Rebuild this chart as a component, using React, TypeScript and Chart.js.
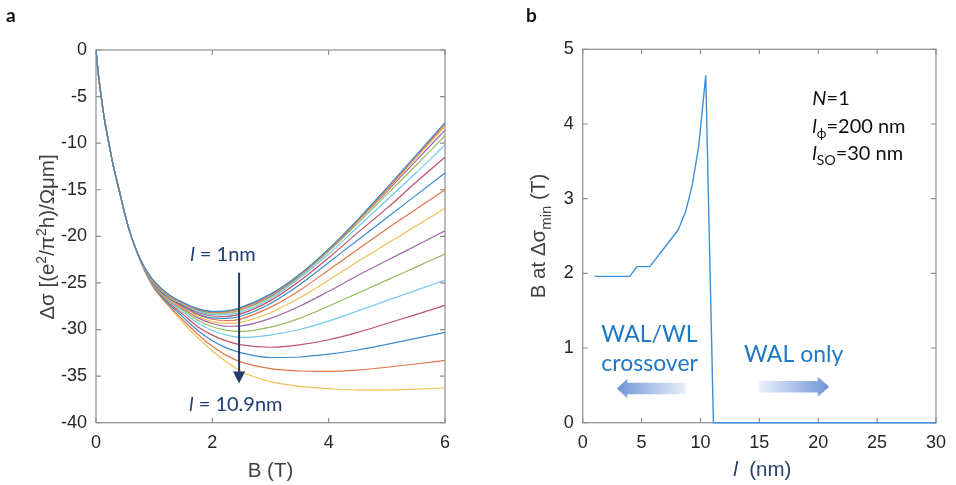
import React, { useEffect, useRef } from "react";
import { Chart, registerables } from "chart.js";

Chart.register(...registerables);

// ---------------- Panel a data: Δσ vs B ----------------
// shared low-field part (all curves coincide)
const fieldStart = [0, 0.02, 0.05, 0.1, 0.15, 0.2, 0.3, 0.4, 0.5, 0.6, 0.7];
const sigmaStart = [0, -1.4, -3.1, -5.5, -7.6, -9.3, -12.5, -15.1, -17.7, -19.9, -21.6];
// field values where the curves separate
const fieldTail = [0.8, 0.9, 1.0, 1.25, 1.5, 1.75, 2.0, 2.25, 2.5, 3.0, 3.5, 4.0, 4.5, 5.0, 5.5, 6.0];

const curve01 = [-22.95, -24.0, -24.8, -26.25, -27.1, -27.75, -28.05, -28.0, -27.6, -26.2, -24.1, -21.35, -18.2, -14.8, -11.3, -7.8];
const curve02 = [-22.95, -24.0, -24.85, -26.3, -27.15, -27.8, -28.1, -28.05, -27.7, -26.25, -24.1, -21.4, -18.3, -14.95, -11.45, -8.0];
const curve03 = [-22.97, -24.05, -24.9, -26.35, -27.2, -27.8, -28.1, -28.1, -27.75, -26.3, -24.15, -21.45, -18.35, -15.05, -11.6, -8.2];
const curve04 = [-22.98, -24.1, -24.95, -26.4, -27.2, -27.85, -28.15, -28.15, -27.8, -26.4, -24.2, -21.5, -18.4, -15.2, -11.9, -8.6];
const curve05 = [-23.0, -24.1, -25.0, -26.45, -27.25, -27.9, -28.25, -28.25, -27.9, -26.5, -24.3, -21.6, -18.6, -15.5, -12.4, -9.2];
const curve06 = [-23.0, -24.15, -25.05, -26.5, -27.3, -28.0, -28.4, -28.4, -28.1, -26.7, -24.5, -21.9, -19.0, -16.1, -13.2, -10.2];
const curve07 = [-23.02, -24.2, -25.1, -26.55, -27.4, -28.15, -28.55, -28.6, -28.3, -26.9, -24.8, -22.3, -19.6, -17.0, -14.2, -11.5];
const curve08 = [-23.03, -24.2, -25.15, -26.6, -27.5, -28.3, -28.75, -28.8, -28.55, -27.2, -25.2, -22.8, -20.4, -18.0, -15.6, -13.2];
const curve09 = [-23.05, -24.25, -25.2, -26.65, -27.6, -28.4, -28.9, -29.05, -28.85, -27.6, -25.8, -23.6, -21.4, -19.2, -17.1, -15.0];
const curve10 = [-23.07, -24.3, -25.25, -26.75, -27.7, -28.6, -29.15, -29.35, -29.2, -28.2, -26.6, -24.7, -22.7, -20.8, -18.9, -17.0];
const curve11 = [-23.08, -24.3, -25.3, -26.8, -27.8, -28.75, -29.35, -29.65, -29.6, -28.8, -27.5, -25.9, -24.2, -22.6, -21.0, -19.4];
const curve12 = [-23.1, -24.35, -25.35, -26.9, -27.95, -29.0, -29.7, -30.1, -30.2, -29.75, -28.8, -27.5, -26.1, -24.7, -23.3, -21.9];
const curve13 = [-23.12, -24.4, -25.4, -27.0, -28.15, -29.3, -30.1, -30.6, -30.85, -30.6, -30.0, -29.1, -28.0, -26.9, -25.8, -24.7];
const curve14 = [-23.13, -24.4, -25.45, -27.1, -28.4, -29.7, -30.6, -31.25, -31.65, -31.9, -31.65, -31.1, -30.3, -29.35, -28.4, -27.4];
const curve15 = [-23.15, -24.45, -25.5, -27.25, -28.7, -30.1, -31.2, -32.0, -32.5, -33.0, -32.95, -32.65, -32.2, -31.6, -30.95, -30.3];
const curve16 = [-23.17, -24.5, -25.55, -27.4, -29.0, -30.5, -31.8, -32.8, -33.5, -34.2, -34.45, -34.5, -34.35, -34.05, -33.7, -33.3];
const curve17 = [-23.2, -24.55, -25.6, -27.5, -29.3, -30.9, -32.3, -33.5, -34.5, -35.6, -36.1, -36.35, -36.5, -36.5, -36.4, -36.25];

const curvesA = [curve01, curve02, curve03, curve04, curve05, curve06, curve07, curve08, curve09,
  curve10, curve11, curve12, curve13, curve14, curve15, curve16, curve17];
const paletteA = ["#3b8ccc", "#e0764a", "#efc056", "#a064ad", "#91bd5c", "#74c9ee", "#c0506a"];

const xTicksA = [0, 2, 4, 6];
const yTicksA = [0, -5, -10, -15, -20, -25, -30, -35, -40];

// ---------------- Panel b data: B at Δσmin vs l ----------------
const lengthNm = [1, 4, 4.6, 5.7, 8.1, 8.75, 9.3, 9.85, 10.45, 11.1, 30];
const bAtMin = [1.96, 1.96, 2.09, 2.09, 2.58, 2.83, 3.18, 3.7, 4.65, 0, 0];
const xTicksB = [0, 5, 10, 15, 20, 25, 30];
const yTicksB = [0, 1, 2, 3, 4, 5];

// ---------------- helpers ----------------
type Seg = { t: string; size?: number; italic?: boolean; bold?: boolean; dy?: number; color?: string; family?: string };

function drawRich(ctx: CanvasRenderingContext2D, segs: Seg[], x: number, y: number, size: number,
  family: string, color: string, align: "left" | "center" = "left", rotate = 0) {
  ctx.save();
  ctx.translate(x, y);
  if (rotate) ctx.rotate(rotate);
  const fontOf = (s: Seg) => `${s.italic ? "italic " : ""}${s.bold ? "bold " : ""}${s.size ?? size}px ${s.family ?? family}`;
  let total = 0;
  const widths = segs.map((s) => { ctx.font = fontOf(s); const w = ctx.measureText(s.t).width; total += w; return w; });
  let cx = align === "center" ? -total / 2 : 0;
  ctx.textAlign = "left";
  ctx.textBaseline = "alphabetic";
  const base = size * 0.36;
  segs.forEach((s, i) => {
    ctx.font = fontOf(s);
    ctx.fillStyle = s.color ?? color;
    ctx.fillText(s.t, cx, base + (s.dy ?? 0));
    cx += widths[i];
  });
  ctx.restore();
}

function gradArrow(ctx: CanvasRenderingContext2D, tailX: number, tipX: number, cy: number,
  headLen: number, headHalf: number, bodyHalf: number, cTail: string, cTip: string) {
  const dir = Math.sign(tipX - tailX);
  const baseX = tipX - dir * headLen;
  const g = ctx.createLinearGradient(tailX, 0, tipX, 0);
  g.addColorStop(0, cTail);
  g.addColorStop(1, cTip);
  ctx.save();
  ctx.fillStyle = g;
  ctx.beginPath();
  ctx.moveTo(tailX, cy - bodyHalf);
  ctx.lineTo(baseX, cy - bodyHalf);
  ctx.lineTo(baseX, cy - headHalf);
  ctx.lineTo(tipX, cy);
  ctx.lineTo(baseX, cy + headHalf);
  ctx.lineTo(baseX, cy + bodyHalf);
  ctx.lineTo(tailX, cy + bodyHalf);
  ctx.closePath();
  ctx.fill();
  ctx.restore();
}

const framePlugin = {
  id: "frame",
  beforeDatasetsDraw(chart: any) {
    const { ctx, chartArea: a, scales } = chart;
    ctx.save();
    ctx.strokeStyle = "#8e8e8e";
    ctx.lineWidth = 1.2;
    ctx.strokeRect(a.left, a.top, a.right - a.left, a.bottom - a.top);
    ctx.beginPath();
    const tl = 5;
    scales.x.ticks.forEach((t: any) => {
      const p = scales.x.getPixelForValue(t.value);
      ctx.moveTo(p, a.bottom); ctx.lineTo(p, a.bottom - tl);
      ctx.moveTo(p, a.top); ctx.lineTo(p, a.top + tl);
    });
    scales.y.ticks.forEach((t: any) => {
      const p = scales.y.getPixelForValue(t.value);
      ctx.moveTo(a.left, p); ctx.lineTo(a.left + tl, p);
      ctx.moveTo(a.right, p); ctx.lineTo(a.right - tl, p);
    });
    ctx.stroke();
    ctx.restore();
  },
};

const TICK_FONT = { family: "'Liberation Sans', Arial, sans-serif", size: 18 };
const LABEL_FAMILY = "'Liberation Sans', Arial, sans-serif";
const NOTE_FAMILY = "Lato, 'Open Sans', sans-serif";
const NAVY = "#1f3b70";
const BLUE_TEXT = "#1f78c6";

function axisScale(min: number, max: number, ticks: number[], fitSize: number, isX: boolean, padding: number) {
  return {
    type: "linear",
    min, max,
    grid: { display: false, drawTicks: false },
    border: { display: false },
    ticks: { font: TICK_FONT, color: "#262626", padding, maxRotation: 0, autoSkip: false },
    afterBuildTicks: (s: any) => { s.ticks = ticks.map((v) => ({ value: v })); },
    afterFit: (s: any) => { if (isX) s.height = fitSize; else s.width = fitSize; },
  };
}

export default function App() {
  const refA = useRef<HTMLCanvasElement>(null);
  const refB = useRef<HTMLCanvasElement>(null);

  useEffect(() => {
    const datasets = curvesA.map((tail, i) => ({
      data: fieldStart.map((b, k) => ({ x: b, y: sigmaStart[k] }))
        .concat(fieldTail.map((b, k) => ({ x: b, y: tail[k] }))),
      borderColor: paletteA[i % paletteA.length],
      borderWidth: 1.2,
      pointRadius: 0,
      cubicInterpolationMode: "monotone",
      fill: false,
    }));

    const notesA = {
      id: "notesA",
      afterDraw(chart: any) {
        const { ctx, scales } = chart;
        const px = (v: number) => scales.x.getPixelForValue(v);
        const py = (v: number) => scales.y.getPixelForValue(v);
        // navy arrow
        const ax = px(2.46), aTop = py(-23.9), aTip = py(-35.8);
        ctx.save();
        ctx.strokeStyle = NAVY; ctx.fillStyle = NAVY; ctx.lineWidth = 2;
        ctx.beginPath(); ctx.moveTo(ax, aTop); ctx.lineTo(ax, aTip - 9); ctx.stroke();
        ctx.beginPath(); ctx.moveTo(ax - 6, aTip - 12); ctx.lineTo(ax + 6, aTip - 12); ctx.lineTo(ax, aTip); ctx.closePath(); ctx.fill();
        ctx.restore();
        drawRich(ctx, [{ t: "l", italic: true }, { t: " = 1nm" }], px(1.62), py(-21.9), 20, NOTE_FAMILY, NAVY);
        drawRich(ctx, [{ t: "l", italic: true }, { t: " = 10.9nm" }], px(1.6), py(-37.95), 20, NOTE_FAMILY, NAVY);
        // axis titles
        drawRich(ctx, [{ t: "B (T)" }], (chart.chartArea.left + chart.chartArea.right) / 2, 470, 20.5, LABEL_FAMILY, "#404040", "center");
        drawRich(ctx, [
          { t: "Δσ [(e" }, { t: "2", size: 14, dy: -8 }, { t: "/π" }, { t: "2", size: 14, dy: -8 }, { t: "h)/Ωμm]" },
        ], 47, 237, 20.5, LABEL_FAMILY, "#404040", "center", -Math.PI / 2);
        // panel letter
        ctx.save();
        ctx.font = `bold 19px ${NOTE_FAMILY}`; ctx.fillStyle = "#111"; ctx.textBaseline = "middle";
        ctx.fillText("a", 6, 16);
        ctx.restore();
      },
    };

    const chartA = new Chart(refA.current!, {
      type: "line",
      data: { datasets: datasets as any },
      options: {
        responsive: false,
        animation: false,
        layout: { padding: { top: 50, right: 25, left: 0, bottom: 0 } },
        plugins: { legend: { display: false }, tooltip: { enabled: false } },
        scales: {
          x: axisScale(0, 6, xTicksA, 62.3, true, 10) as any,
          y: axisScale(-40, 0, yTicksA, 96, false, 9) as any,
        },
      },
      plugins: [framePlugin, notesA],
    });

    const notesB = {
      id: "notesB",
      afterDraw(chart: any) {
        const { ctx, scales } = chart;
        const px = (v: number) => scales.x.getPixelForValue(v);
        const py = (v: number) => scales.y.getPixelForValue(v);
        drawRich(ctx, [{ t: "N", italic: true }, { t: "=1" }], px(19.5), py(4.35), 20, NOTE_FAMILY, "#111");
        drawRich(ctx, [{ t: "l", italic: true }, { t: "ϕ", size: 13, dy: 5 }, { t: "=200 nm" }], px(19.5), py(3.97), 20, NOTE_FAMILY, "#111");
        drawRich(ctx, [{ t: "l", italic: true }, { t: "SO", size: 14, dy: 5 }, { t: "=30 nm" }], px(19.5), py(3.61), 20, NOTE_FAMILY, "#111");
        drawRich(ctx, [{ t: "WAL/WL" }], px(1.58), py(1.19), 23, NOTE_FAMILY, BLUE_TEXT);
        drawRich(ctx, [{ t: "crossover" }], px(1.58), py(0.8), 23, NOTE_FAMILY, BLUE_TEXT);
        drawRich(ctx, [{ t: "WAL only" }], px(13.7), py(0.93), 23, NOTE_FAMILY, BLUE_TEXT);
        gradArrow(ctx, px(8.74), px(2.9), py(0.458), 10.5, 9.7, 5.8, "#eaf0fa", "#6f95d6");
        gradArrow(ctx, px(14.99), px(20.94), py(0.482), 11.5, 10, 5.8, "#eaf0fa", "#6f95d6");
        // axis titles
        drawRich(ctx, [{ t: "l", italic: true }, { t: "  (nm)" }], (chart.chartArea.left + chart.chartArea.right) / 2 + 3, 469, 20.5, LABEL_FAMILY, "#27406e", "center");
        drawRich(ctx, [{ t: "B at Δσ" }, { t: "min", size: 15, dy: 6 }, { t: " (T)" }], 68, 236, 20.5, LABEL_FAMILY, "#404040", "center", -Math.PI / 2);
        ctx.save();
        ctx.font = `bold 19px ${NOTE_FAMILY}`; ctx.fillStyle = "#111"; ctx.textBaseline = "middle";
        ctx.fillText("b", 56, 16);
        ctx.restore();
      },
    };

    const chartB = new Chart(refB.current!, {
      type: "line",
      data: {
        datasets: [{
          data: lengthNm.map((l, i) => ({ x: l, y: bAtMin[i] })),
          borderColor: "#3d8fd8",
          borderWidth: 1.4,
          pointRadius: 0,
          tension: 0,
          fill: false,
          clip: 3,
        }] as any,
      },
      options: {
        responsive: false,
        animation: false,
        layout: { padding: { top: 49.3, right: 11.7, left: 0, bottom: 0 } },
        plugins: { legend: { display: false }, tooltip: { enabled: false } },
        scales: {
          x: axisScale(0, 30, xTicksB, 62.3, true, 10) as any,
          y: axisScale(0, 5, yTicksB, 112.7, false, 9) as any,
        },
      },
      plugins: [framePlugin, notesB],
    });

    return () => { chartA.destroy(); chartB.destroy(); };
  }, []);

  return (
    <div style={{ position: "absolute", left: 0, top: 0, width: 956, height: 485, background: "#fff" }}>
      <canvas ref={refA} width={470} height={485} style={{ position: "absolute", left: 0, top: 0, width: 470, height: 485 }} />
      <canvas ref={refB} width={486} height={485} style={{ position: "absolute", left: 470, top: 0, width: 486, height: 485 }} />
    </div>
  );
}
